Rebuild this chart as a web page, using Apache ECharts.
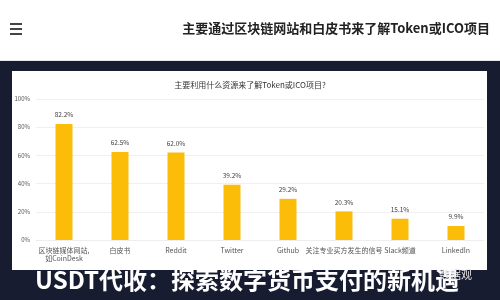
<!DOCTYPE html>
<html><head><meta charset="utf-8">
<script src="https://cdn.jsdelivr.net/npm/echarts@6/dist/echarts.min.js"></script>
<style>html,body{margin:0;padding:0;background:#fff}#c{width:500px;height:300px}</style>
</head><body><div id="c"></div>
<script>
var pageTitle = '主要通过区块链网站和白皮书来了解Token或ICO项目';
var chartTitle = '主要利用什么资源来了解Token或ICO项目?';
var bannerText = 'USDT代收：探索数字货币支付的新机遇';
var categories = ['区块链媒体网站,\n如CoinDesk', '白皮书', 'Reddit', 'Twitter', 'Github', '关注专业买方发生的信号', 'Slack频道', 'LinkedIn'];
var values = [82.2, 62.5, 62.0, 39.2, 29.2, 20.3, 15.1, 9.9];
var yTicks = [0, 20, 40, 60, 80, 100];

var chart = echarts.init(document.getElementById('c'), null, {renderer: 'canvas'});
var font = '"Noto Sans CJK SC", "Noto Sans", sans-serif';
chart.setOption({
  animation: false,
  backgroundColor: '#ffffff',
  textStyle: {fontFamily: font},
  graphic: [
    {type: 'rect', z: -10, left: 0, top: 61, shape: {x: 0, y: 0, width: 500, height: 239}, style: {fill: '#171c31'}},
    {type: 'rect', z: -10, left: 0, top: 60, shape: {x: 0, y: 0, width: 500, height: 1}, style: {fill: '#e6e6ea'}},
    {type: 'rect', z: -9, left: 12, top: 71, shape: {x: 0, y: 0, width: 475, height: 199}, style: {fill: '#ffffff'}},
    {type: 'rect', z: -8, left: 487, top: 61, shape: {x: 0, y: 0, width: 13, height: 239}, style: {fill: '#171c31'}},
    {type: 'rect', left: 10, top: 23, shape: {x: 0, y: 0, width: 12, height: 2}, style: {fill: '#444'}},
    {type: 'rect', left: 10, top: 28, shape: {x: 0, y: 0, width: 12, height: 2}, style: {fill: '#444'}},
    {type: 'rect', left: 10, top: 33, shape: {x: 0, y: 0, width: 12, height: 2}, style: {fill: '#444'}},
    {type: 'text', right: 10, top: 22, style: {text: pageTitle, fill: '#222', font: 'bold 13px ' + font}},
    {type: 'text', left: 35, top: 268, style: {text: bannerText, fill: '#ffffff', font: 'bold 24px ' + font}},
    {type: 'text', right: 28, top: 269, style: {text: '数据观', fill: '#e8e8e8', font: '11px ' + font}}
  ],
  title: {
    text: chartTitle, left: 'center', top: 76,
    textStyle: {fontSize: 8, fontWeight: 'normal', color: '#333', fontFamily: font}
  },
  grid: {left: 36, right: 16, top: 99, bottom: 60, containLabel: false},
  xAxis: {
    type: 'category', data: categories,
    axisLine: {show: true, lineStyle: {color: '#eee'}},
    axisTick: {show: false},
    axisLabel: {interval: 0, fontSize: 7, color: '#555', lineHeight: 8, margin: 6, fontFamily: font}
  },
  yAxis: {
    type: 'value', min: yTicks[0], max: yTicks[yTicks.length - 1], interval: 20,
    axisLine: {show: false}, axisTick: {show: false},
    axisLabel: {formatter: '{value}%', fontSize: 6, color: '#555', margin: 6, fontFamily: font},
    splitLine: {lineStyle: {color: '#f0f0f0'}}
  },
  series: [{
    type: 'bar', data: values, barWidth: 17,
    itemStyle: {color: '#fbbd08'},
    label: {show: true, position: 'top', formatter: function (p) { return p.value.toFixed(1) + '%'; }, fontSize: 6.5, color: '#444', distance: 6, fontFamily: font}
  }]
});
</script></body></html>
